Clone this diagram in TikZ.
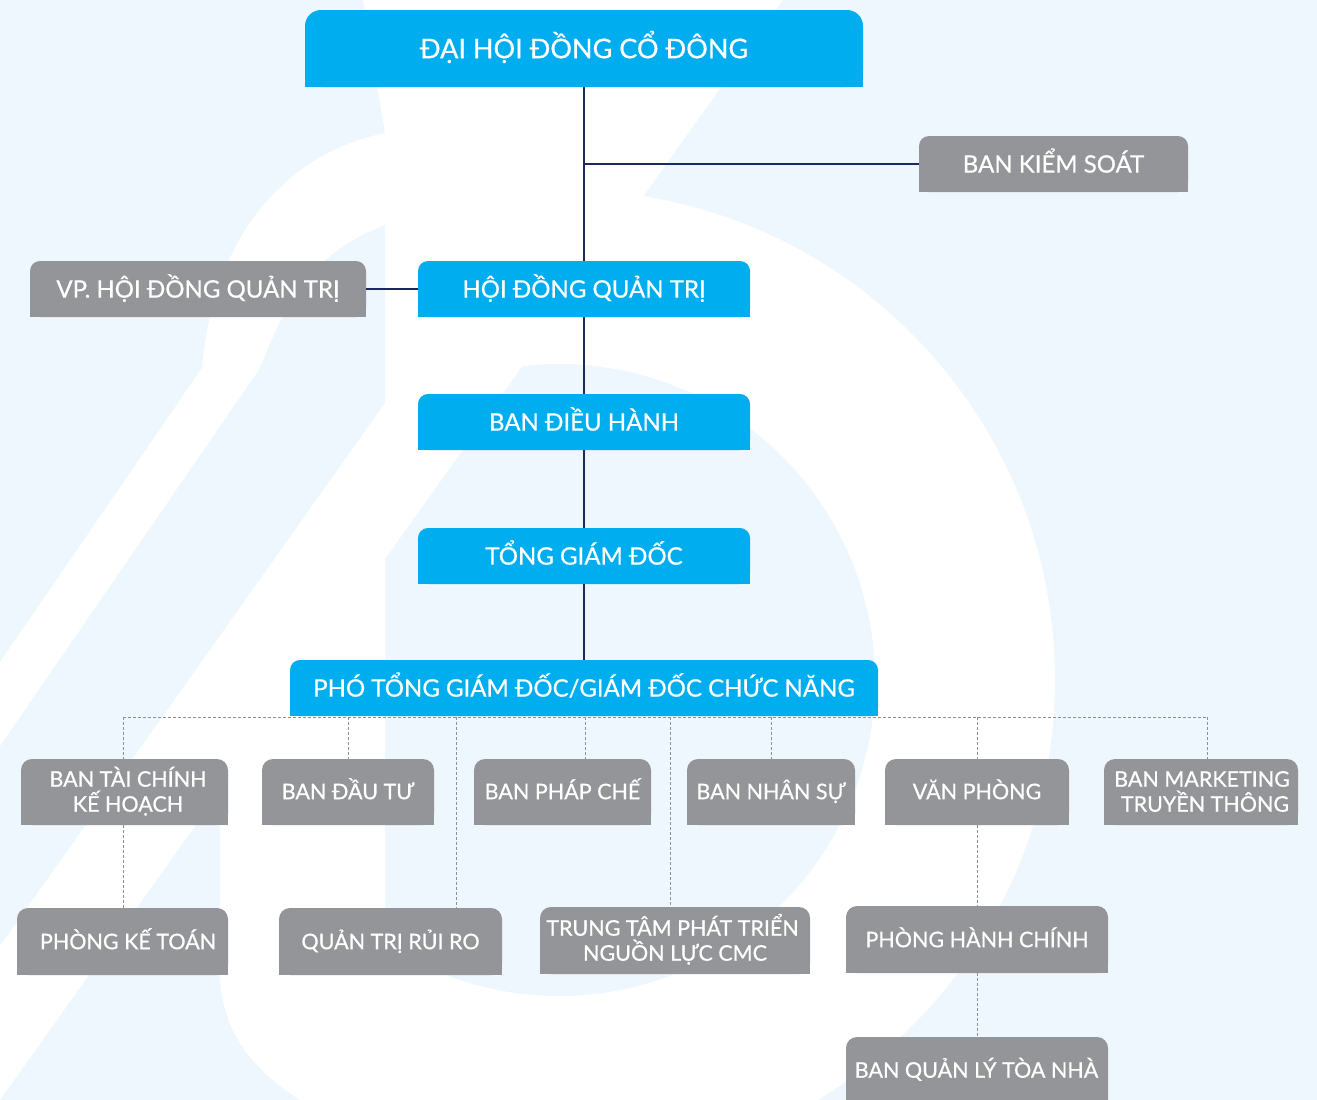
\documentclass[tikz,border=0pt]{standalone}
\usepackage{fontspec}
\setmainfont{Lato}
\newfontfamily\boxfont{Lato}[FakeBold=0.6]
\usetikzlibrary{calc}
\definecolor{cmcblue}{HTML}{00AEEF}
\definecolor{cmcgrey}{HTML}{939598}
\definecolor{bgtint}{HTML}{EEF7FD}
\definecolor{navyline}{HTML}{1B2A5C}
\definecolor{dotgrey}{HTML}{8D8F92}
% box with rounded top corners: name, x1, y1, x2, y2, colour, radius
\newcommand\orgbox[7]{%
  \pgfmathsetmacro\obw{#4-#2}\pgfmathsetmacro\obh{#5-#3}%
  \pgfmathsetmacro\obcx{(#2+#4)/2}\pgfmathsetmacro\obcy{(#3+#5)/2}%
  \fill[#6, rounded corners=#7pt] (#2,#3) rectangle (#4,#5);
  \fill[#6] (#2,\obcy) rectangle (#4,#5);
  \node[draw=none, inner sep=0pt, minimum width=\obw pt, minimum height=\obh pt] (#1) at (\obcx,\obcy) {};
}
% text line: name, x, baseline y, size, text
\newcommand\orgtext[5]{%
  \node[boxtext, anchor=base, font=\boxfont\fontsize{#4}{#4}\selectfont] (#1) at (#2,#3) {#5};
}
\begin{document}
\begin{tikzpicture}[x=1pt,y=-1pt,
  solidlink/.style={draw=navyline, line width=1.5pt},
  dotlink/.style={draw=dotgrey, line width=1pt, dash pattern=on 3pt off 2pt},
  boxtext/.style={text=white, inner sep=0pt}]
\useasboundingbox (0,0) rectangle (1317,1100);
% background watermark
\fill[bgtint] (0,0) rectangle (1317,1100);
\fill[white] (363,0) -- (783,0) -- (0,1100) -- (0,946) -- (385,403) -- (385,133) -- cycle;
\begin{scope}
  \clip (783,0) -- (1317,0) -- (1317,1100) -- (300,1100) .. controls (245,1065) and (222,1025) .. (220,975) -- (220,790) -- cycle;
  \fill[white, even odd rule] (565,680) circle[radius=490pt] (559,680) circle[radius=316pt];
  \fill[white] (220,400) rectangle (385,1100);
\end{scope}
\fill[white] (385,133) .. controls (300,150) and (215,220) .. (202,368) -- (0,662) -- (0,746) -- (260,368) .. controls (290,290) and (320,250) .. (385,225) -- cycle;

% boxes
\orgbox{dh}{305}{10}{863}{87}{cmcblue}{16}
\orgbox{bks}{919}{136}{1188}{192}{cmcgrey}{10}
\orgbox{vp}{30}{261}{366}{317}{cmcgrey}{10}
\orgbox{hd}{418}{261}{750}{317}{cmcblue}{10}
\orgbox{bdh}{418}{394}{750}{450}{cmcblue}{10}
\orgbox{tgd}{418}{528}{750}{584}{cmcblue}{10}
\orgbox{ptgd}{290}{660}{878}{716}{cmcblue}{10}
\orgbox{btc}{21}{759}{228}{825}{cmcgrey}{11}
\orgbox{bdt}{262}{759}{434}{825}{cmcgrey}{11}
\orgbox{bpc}{474}{759}{651}{825}{cmcgrey}{11}
\orgbox{bns}{687}{759}{855}{825}{cmcgrey}{11}
\orgbox{vph}{885}{759}{1069}{825}{cmcgrey}{11}
\orgbox{mkt}{1104}{759}{1298}{825}{cmcgrey}{11}
\orgbox{pkt}{17}{908}{228}{975}{cmcgrey}{11}
\orgbox{qtrr}{279}{908}{502}{975}{cmcgrey}{11}
\orgbox{tt}{540}{907}{810}{974}{cmcgrey}{11}
\orgbox{phc}{846}{906}{1108}{973}{cmcgrey}{11}
\orgbox{bql}{846}{1037}{1108}{1112}{cmcgrey}{11}

% texts
\orgtext{tdh}{584}{58.2}{27}{ĐẠI HỘI ĐỒNG CỔ ĐÔNG}
\orgtext{tbks}{1053.5}{172.6}{24}{BAN KIỂM SOÁT}
\orgtext{tvp}{198}{297.6}{24}{VP. HỘI ĐỒNG QUẢN TRỊ}
\orgtext{thd}{584}{297.6}{24}{HỘI ĐỒNG QUẢN TRỊ}
\orgtext{tbdh}{584}{430.6}{24}{BAN ĐIỀU HÀNH}
\orgtext{ttgd}{584}{564.6}{24}{TỔNG GIÁM ĐỐC}
\orgtext{tptgd}{584}{696.6}{24}{PHÓ TỔNG GIÁM ĐỐC/GIÁM ĐỐC CHỨC NĂNG}
\orgtext{tbtc1}{128}{786.7}{21.5}{BAN TÀI CHÍNH}
\orgtext{tbtc2}{128}{811.7}{21.5}{KẾ HOẠCH}
\orgtext{tbdt}{348}{799.2}{21.5}{BAN ĐẦU TƯ}
\orgtext{tbpc}{562.5}{799.2}{21.5}{BAN PHÁP CHẾ}
\orgtext{tbns}{771}{799.2}{21.5}{BAN NHÂN SỰ}
\orgtext{tvph}{977}{799.2}{21.5}{VĂN PHÒNG}
\orgtext{tmkt1}{1202}{786.7}{21.5}{BAN MARKETING}
\orgtext{tmkt2}{1205}{811.7}{21.5}{TRUYỀN THÔNG}
\orgtext{tpkt}{128}{949.2}{21.5}{PHÒNG KẾ TOÁN}
\orgtext{tqtrr}{390.5}{949.2}{21.5}{QUẢN TRỊ RỦI RO}
\orgtext{ttt1}{672.5}{935.7}{21.5}{TRUNG TÂM PHÁT TRIỂN}
\orgtext{ttt2}{675}{960.7}{21.5}{NGUỒN LỰC CMC}
\orgtext{tphc}{977}{947.2}{21.5}{PHÒNG HÀNH CHÍNH}
\orgtext{tbql}{976.5}{1077.7}{21.5}{BAN QUẢN LÝ TÒA NHÀ}

% solid connectors
\draw[solidlink] (dh.south) -- (hd.north);
\draw[solidlink] (dh.south |- bks.west) -- (bks.west);
\draw[solidlink] (vp.east) -- (hd.west);
\draw[solidlink] (hd.south) -- (bdh.north);
\draw[solidlink] (bdh.south) -- (tgd.north);
\draw[solidlink] (tgd.south) -- (ptgd.north);

% dotted connectors
\coordinate (d1) at (123,717);
\coordinate (d2) at (348,717);
\coordinate (d3) at (456,717);
\coordinate (d4) at (585,717);
\coordinate (d5) at (670,717);
\coordinate (d6) at (771,717);
\coordinate (d7) at (977,717);
\coordinate (d8) at (1207,717);
\draw[dotlink] (d1) -- (d8);
\draw[dotlink] (d1) -- (d1 |- btc.north);
\draw[dotlink] (d2) -- (d2 |- bdt.north);
\draw[dotlink] (d3) -- (d3 |- qtrr.north);
\draw[dotlink] (d4) -- (d4 |- bpc.north);
\draw[dotlink] (d5) -- (d5 |- tt.north);
\draw[dotlink] (d6) -- (d6 |- bns.north);
\draw[dotlink] (d7) -- (d7 |- vph.north);
\draw[dotlink] (d8) -- (d8 |- mkt.north);
\draw[dotlink] (d1 |- btc.south) -- (d1 |- pkt.north);
\draw[dotlink] (vph.south) -- (phc.north);
\draw[dotlink] (phc.south) -- (bql.north);
\end{tikzpicture}
\end{document}
